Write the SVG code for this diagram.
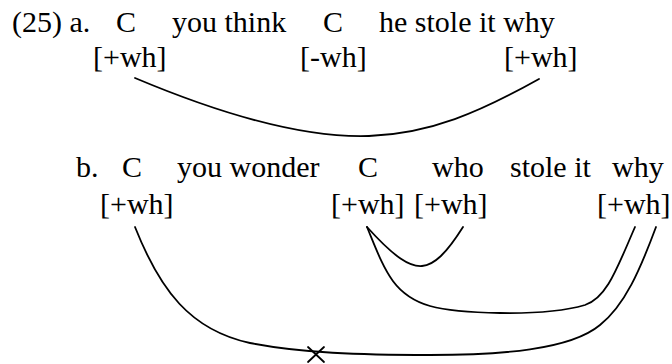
<svg xmlns="http://www.w3.org/2000/svg" width="672" height="364" viewBox="0 0 672 364">
<style>
text{font-family:"Liberation Serif","Times New Roman",serif;font-size:30px;fill:#000}
.c{fill:none;stroke:#000;stroke-width:1.8;stroke-linecap:round}
</style>
<rect width="672" height="364" fill="#fff"/>
<g id="row-a">
<text x="12" y="32">(25) a.</text>
<text x="116" y="32">C</text>
<text x="172" y="32">you think</text>
<text x="323" y="32">C</text>
<text x="379" y="32">he stole it why</text>
</g>
<g id="a-wh1"><text x="93" y="67">[+wh]</text></g>
<g id="a-wh2"><text x="300" y="67">[-wh]</text></g>
<g id="a-wh3"><text x="504" y="67">[+wh]</text></g>
<g id="row-b">
<text x="76" y="177">b.</text>
<text x="122" y="177">C</text>
<text x="177" y="177">you wonder</text>
<text x="358" y="177">C</text>
<text x="432" y="177">who</text>
<text x="510" y="177">stole it</text>
<text x="612" y="177">why</text>
</g>
<g id="b-wh1"><text x="100" y="214">[+wh]</text></g>
<g id="b-wh2"><text x="331" y="214">[+wh]</text></g>
<g id="b-wh3"><text x="414" y="214">[+wh]</text></g>
<g id="b-wh4"><text x="597" y="214">[+wh]</text></g>
<g id="connectors">
<path class="c" d="M135,78 C230,118 310,138 369,136 C430,134 480,112 539,79"/>
<path class="c" d="M367,227 C395,258 410,267 422,266 C434,265 446,254 463,227"/>
<path class="c" d="M367,227 C384,268 392,295 430,306 C455,313 540,318 585,305 C607,298 617,268 635,227"/>
<path class="c" d="M135,227 C160,290 190,330 250,343 C300,353 360,355 430,355 C500,355 570,350 600,325 C625,305 640,270 656,227"/>
<path class="c" d="M308,347 L324,362 M308,362 L324,347"/>
</g>
</svg>
